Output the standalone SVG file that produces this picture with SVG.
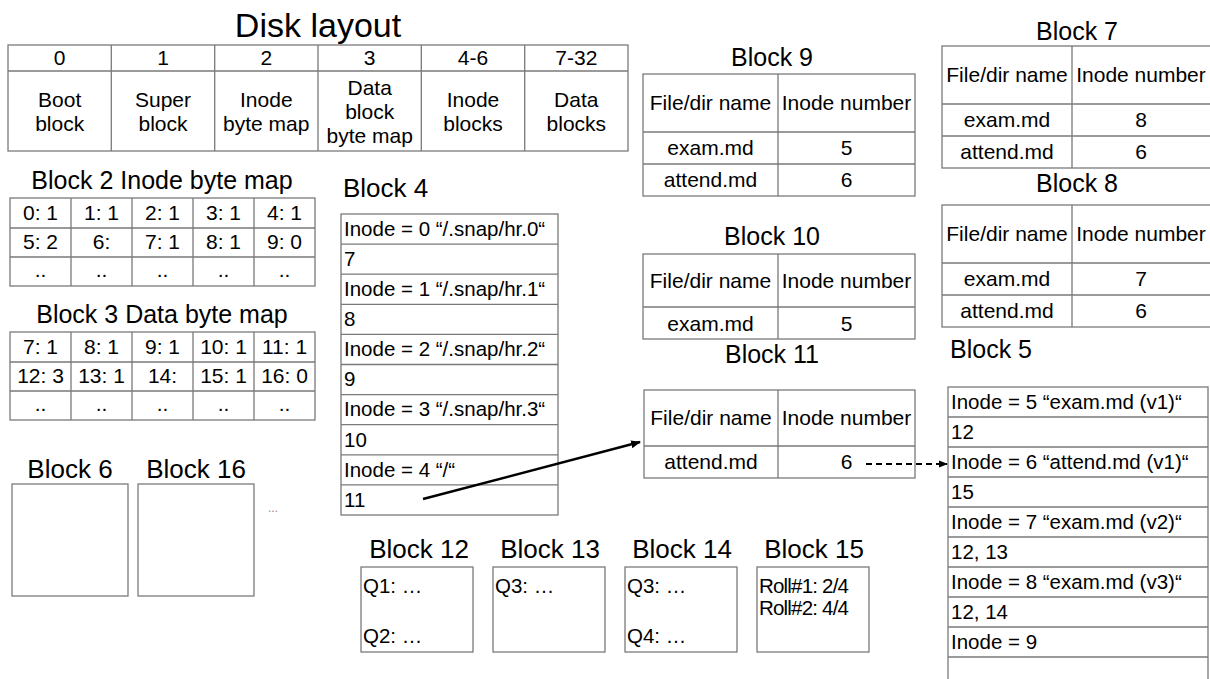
<svg xmlns="http://www.w3.org/2000/svg" width="1210" height="679" viewBox="0 0 1210 679">
  <style>
    text { font-family: "Liberation Sans", Arial, Helvetica, sans-serif; fill: #000; }
    .t { font-size: 20.5px; }
    .d { font-size: 21px; }
    .m { font-size: 21px; }
    .c { text-anchor: middle; }
    .h1 { font-size: 34px; }
    .h2 { font-size: 25px; }
    .h3 { font-size: 26px; }
    .box { fill: #fff; stroke: #7a7a7a; stroke-width: 1.3; }
    .ln { stroke: #7a7a7a; stroke-width: 1.3; fill: none; }
    .dots { font-size: 12px; fill: #888; }
  </style>
  <defs>
    <marker id="arrow" viewBox="0 0 10 10" refX="9" refY="5" markerWidth="10" markerHeight="10" orient="auto" markerUnits="userSpaceOnUse">
      <path d="M0,1 L10,5 L0,9 Z" fill="#000"/>
    </marker>
    <marker id="arrowSmall" viewBox="0 0 10 10" refX="9" refY="5" markerWidth="9" markerHeight="9" orient="auto" markerUnits="userSpaceOnUse">
      <path d="M0,1 L10,5 L0,9 Z" fill="#000"/>
    </marker>
  </defs>
  <rect width="1210" height="679" fill="#fff"/>

  <!-- Disk layout overview -->
  <g id="disk-layout">
    <text class="h1 c" x="318" y="37">Disk layout</text>
    <rect class="box" x="8" y="45" width="620" height="106"/>
    <path class="ln" d="M8,71 H628 M111.3,45 V151 M214.7,45 V151 M318,45 V151 M421.3,45 V151 M524.7,45 V151"/>
    <g class="m c">
      <text x="59.7" y="65">0</text>
      <text x="163" y="65">1</text>
      <text x="266.3" y="65">2</text>
      <text x="369.7" y="65">3</text>
      <text x="473" y="65">4-6</text>
      <text x="576.3" y="65">7-32</text>
      <text x="59.7" y="107">Boot</text>
      <text x="59.7" y="131">block</text>
      <text x="163" y="107">Super</text>
      <text x="163" y="131">block</text>
      <text x="266.3" y="107">Inode</text>
      <text x="266.3" y="131">byte map</text>
      <text x="369.7" y="95">Data</text>
      <text x="369.7" y="119">block</text>
      <text x="369.7" y="143">byte map</text>
      <text x="473" y="107">Inode</text>
      <text x="473" y="131">blocks</text>
      <text x="576.3" y="107">Data</text>
      <text x="576.3" y="131">blocks</text>
    </g>
  </g>

  <!-- Block 2: inode byte map -->
  <g id="block-2">
    <text class="h2 c" x="162" y="189">Block 2 Inode byte map</text>
    <rect class="box" x="10" y="198" width="305" height="88"/>
    <path class="ln" d="M10,228 H315 M10,257 H315 M71,198 V286 M132,198 V286 M193,198 V286 M254,198 V286"/>
    <g class="m c">
      <text x="40.5" y="220">0: 1</text>
      <text x="101.5" y="220">1: 1</text>
      <text x="162.5" y="220">2: 1</text>
      <text x="223.5" y="220">3: 1</text>
      <text x="284.5" y="220">4: 1</text>
      <text x="40.5" y="249">5: 2</text>
      <text x="101.5" y="249">6:</text>
      <text x="162.5" y="249">7: 1</text>
      <text x="223.5" y="249">8: 1</text>
      <text x="284.5" y="249">9: 0</text>
      <text x="40.5" y="277">..</text>
      <text x="101.5" y="277">..</text>
      <text x="162.5" y="277">..</text>
      <text x="223.5" y="277">..</text>
      <text x="284.5" y="277">..</text>
    </g>
  </g>

  <!-- Block 3: data byte map -->
  <g id="block-3">
    <text class="h2 c" x="162" y="323">Block 3 Data byte map</text>
    <rect class="box" x="10" y="332" width="305" height="88"/>
    <path class="ln" d="M10,362 H315 M10,391 H315 M71,332 V420 M132,332 V420 M193,332 V420 M254,332 V420"/>
    <g class="m c">
      <text x="40.5" y="354">7: 1</text>
      <text x="101.5" y="354">8: 1</text>
      <text x="162.5" y="354">9: 1</text>
      <text x="223.5" y="354">10: 1</text>
      <text x="284.5" y="354">11: 1</text>
      <text x="40.5" y="383">12: 3</text>
      <text x="101.5" y="383">13: 1</text>
      <text x="162.5" y="383">14:</text>
      <text x="223.5" y="383">15: 1</text>
      <text x="284.5" y="383">16: 0</text>
      <text x="40.5" y="411">..</text>
      <text x="101.5" y="411">..</text>
      <text x="162.5" y="411">..</text>
      <text x="223.5" y="411">..</text>
      <text x="284.5" y="411">..</text>
    </g>
  </g>

  <!-- Block 4: inode table -->
  <g id="block-4">
    <text class="h3" x="343" y="197">Block 4</text>
    <rect class="box" x="341" y="214" width="217" height="301"/>
    <path class="ln" d="M341,244.1 H558 M341,274.2 H558 M341,304.3 H558 M341,334.4 H558 M341,364.5 H558 M341,394.6 H558 M341,424.7 H558 M341,454.8 H558 M341,484.9 H558"/>
    <g class="t">
      <text x="344" y="236">Inode = 0 “/.snap/hr.0“</text>
      <text x="344" y="266">7</text>
      <text x="344" y="296">Inode = 1 “/.snap/hr.1“</text>
      <text x="344" y="326">8</text>
      <text x="344" y="356">Inode = 2 “/.snap/hr.2“</text>
      <text x="344" y="386">9</text>
      <text x="344" y="416">Inode = 3 “/.snap/hr.3“</text>
      <text x="344" y="447">10</text>
      <text x="344" y="477">Inode = 4 “/“</text>
      <text x="344" y="507">11</text>
    </g>
  </g>

  <!-- Block 9: directory -->
  <g id="block-9">
    <text class="h2 c" x="772" y="66">Block 9</text>
    <rect class="box" x="643" y="74" width="272" height="122"/>
    <path class="ln" d="M643,132 H915 M643,164 H915 M778,74 V196"/>
    <g class="d c">
      <text x="710.5" y="110">File/dir name</text>
      <text x="846.5" y="110">Inode number</text>
      <text x="710.5" y="155">exam.md</text>
      <text x="846.5" y="155">5</text>
      <text x="710.5" y="187">attend.md</text>
      <text x="846.5" y="187">6</text>
    </g>
  </g>

  <!-- Block 10: directory -->
  <g id="block-10">
    <text class="h2 c" x="772" y="245">Block 10</text>
    <rect class="box" x="643" y="254" width="272" height="85"/>
    <path class="ln" d="M643,307 H915 M778,254 V339"/>
    <g class="d c">
      <text x="710.5" y="288">File/dir name</text>
      <text x="846.5" y="288">Inode number</text>
      <text x="710.5" y="331">exam.md</text>
      <text x="846.5" y="331">5</text>
    </g>
  </g>

  <!-- Block 11: directory -->
  <g id="block-11">
    <text class="h2 c" x="772" y="363">Block 11</text>
    <rect class="box" x="644" y="390" width="271" height="88"/>
    <path class="ln" d="M644,446 H915 M778,390 V478"/>
    <g class="d c">
      <text x="711" y="425">File/dir name</text>
      <text x="846.5" y="425">Inode number</text>
      <text x="711" y="469">attend.md</text>
      <text x="846.5" y="469">6</text>
    </g>
  </g>

  <!-- Block 7: directory -->
  <g id="block-7">
    <text class="h2 c" x="1077" y="40">Block 7</text>
    <rect class="box" x="942" y="46" width="272" height="122"/>
    <path class="ln" d="M942,104 H1214 M942,136 H1214 M1072,46 V168"/>
    <g class="d c">
      <text x="1007" y="82">File/dir name</text>
      <text x="1141" y="82">Inode number</text>
      <text x="1007" y="127">exam.md</text>
      <text x="1141" y="127">8</text>
      <text x="1007" y="159">attend.md</text>
      <text x="1141" y="159">6</text>
    </g>
  </g>

  <!-- Block 8: directory -->
  <g id="block-8">
    <text class="h2 c" x="1077" y="192">Block 8</text>
    <rect class="box" x="942" y="205" width="272" height="122"/>
    <path class="ln" d="M942,263 H1214 M942,295 H1214 M1072,205 V327"/>
    <g class="d c">
      <text x="1007" y="241">File/dir name</text>
      <text x="1141" y="241">Inode number</text>
      <text x="1007" y="286">exam.md</text>
      <text x="1141" y="286">7</text>
      <text x="1007" y="318">attend.md</text>
      <text x="1141" y="318">6</text>
    </g>
  </g>

  <!-- Block 5: inode table -->
  <g id="block-5">
    <text class="h2" x="950" y="358">Block 5</text>
    <rect class="box" x="948" y="387" width="260" height="310"/>
    <path class="ln" d="M948,417 H1208 M948,447 H1208 M948,477 H1208 M948,507 H1208 M948,537 H1208 M948,567 H1208 M948,597 H1208 M948,627 H1208 M948,657 H1208"/>
    <g class="t">
      <text x="951" y="409">Inode = 5 “exam.md (v1)“</text>
      <text x="951" y="439">12</text>
      <text x="951" y="469">Inode = 6 “attend.md (v1)“</text>
      <text x="951" y="499">15</text>
      <text x="951" y="529">Inode = 7 “exam.md (v2)“</text>
      <text x="951" y="559">12, 13</text>
      <text x="951" y="589">Inode = 8 “exam.md (v3)“</text>
      <text x="951" y="619">12, 14</text>
      <text x="951" y="649">Inode = 9</text>
    </g>
  </g>

  <!-- Free data blocks -->
  <g id="block-6">
    <text class="h3 c" x="70" y="478">Block 6</text>
    <rect class="box" x="12" y="484" width="116" height="112"/>
  </g>
  <g id="block-16">
    <text class="h3 c" x="196" y="478">Block 16</text>
    <rect class="box" x="138" y="484" width="116" height="112"/>
  </g>
  <text class="dots" x="268" y="512">...</text>

  <!-- File content blocks -->
  <g id="block-12">
    <text class="h3 c" x="419" y="558">Block 12</text>
    <rect class="box" x="361" y="567" width="112" height="85"/>
    <text class="t" x="363" y="593">Q1: …</text>
    <text class="t" x="363" y="643">Q2: …</text>
  </g>
  <g id="block-13">
    <text class="h3 c" x="550" y="558">Block 13</text>
    <rect class="box" x="493" y="567" width="112" height="85"/>
    <text class="t" x="495" y="593">Q3: …</text>
  </g>
  <g id="block-14">
    <text class="h3 c" x="682" y="558">Block 14</text>
    <rect class="box" x="625" y="567" width="112" height="85"/>
    <text class="t" x="627" y="593">Q3: …</text>
    <text class="t" x="627" y="643">Q4: …</text>
  </g>
  <g id="block-15">
    <text class="h3 c" x="814" y="558">Block 15</text>
    <rect class="box" x="757" y="567" width="112" height="85"/>
    <text class="t" x="759" y="593" textLength="90">Roll#1: 2/4</text>
    <text class="t" x="759" y="615" textLength="90">Roll#2: 4/4</text>
  </g>

  <!-- Connectors -->
  <g id="connectors">
    <line x1="423" y1="499" x2="640" y2="442" stroke="#000" stroke-width="2.4" marker-end="url(#arrow)"/>
    <line x1="866" y1="464" x2="947" y2="464" stroke="#000" stroke-width="2" stroke-dasharray="6,4" marker-end="url(#arrowSmall)"/>
  </g>
</svg>
